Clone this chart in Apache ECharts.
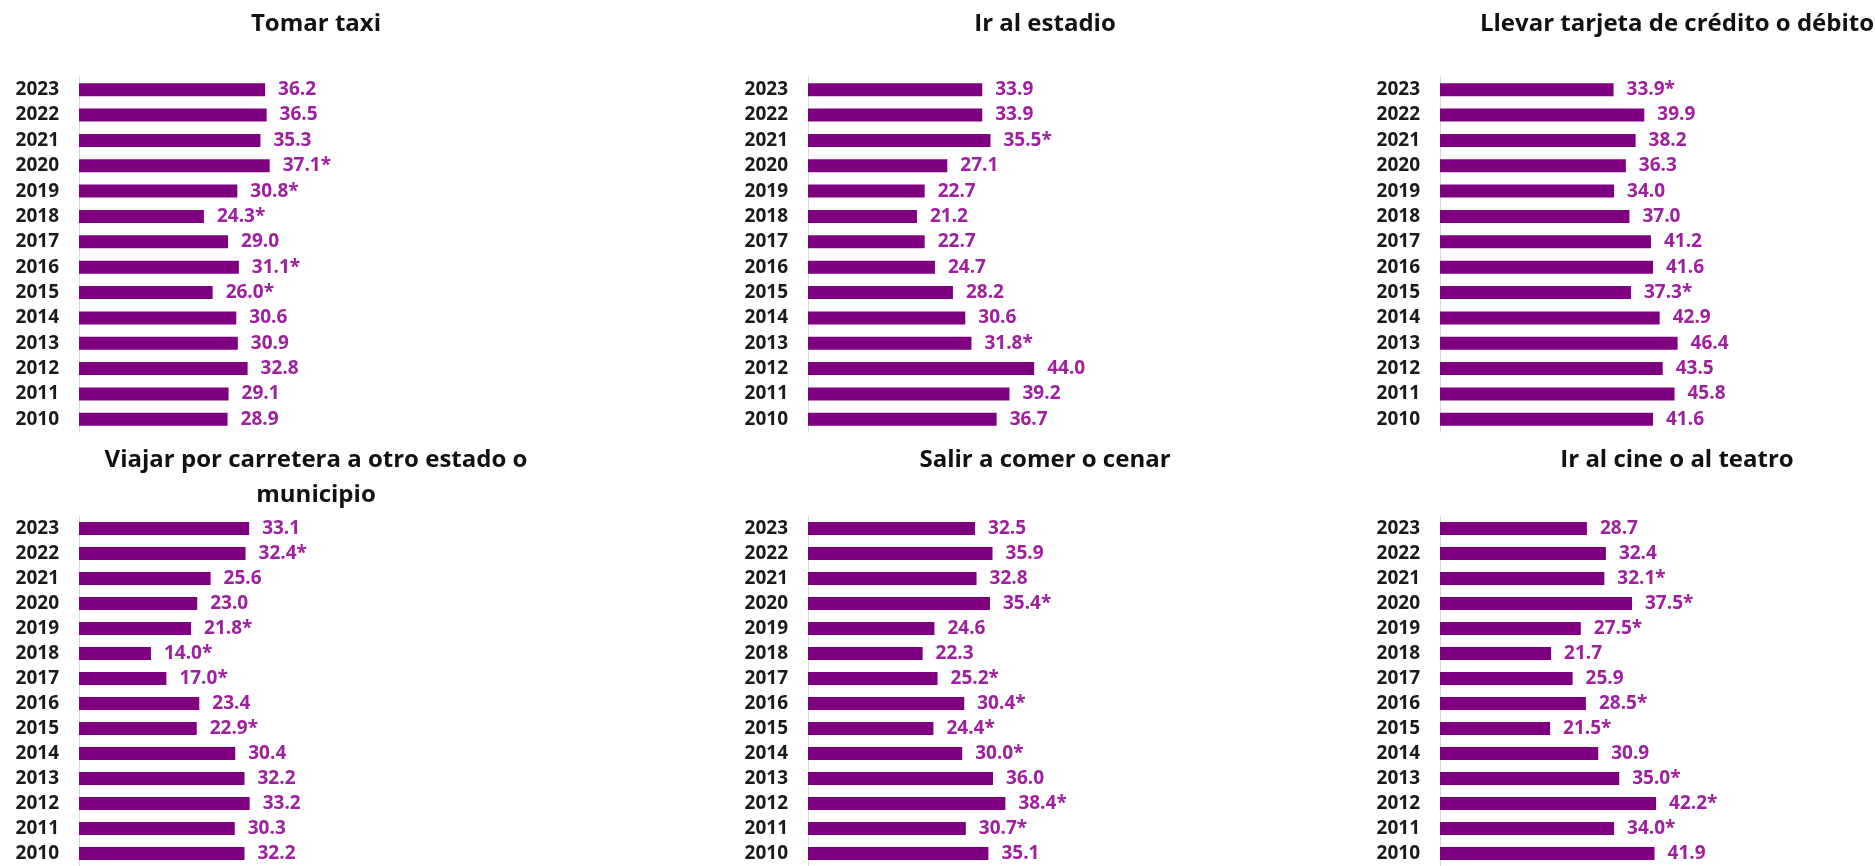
<!DOCTYPE html>
<html>
<head>
<meta charset="utf-8">
<script src="https://cdn.jsdelivr.net/npm/echarts@6/dist/echarts.min.js"></script>
<style>
  html, body { margin: 0; padding: 0; background: #ffffff; }
  #chart { width: 1875px; height: 866px; }
</style>
</head>
<body>
<div id="chart"></div>
<script>
// Years, listed top to bottom
const years = ['2023','2022','2021','2020','2019','2018','2017','2016','2015','2014','2013','2012','2011','2010'];

// Panel titles
const titles = [
  'Tomar taxi',
  'Ir al estadio',
  'Llevar tarjeta de crédito o débito',
  'Viajar por carretera a otro estado o\nmunicipio',
  'Salir a comer o cenar',
  'Ir al cine o al teatro'
];

// Percentages per activity (2023 -> 2010)
const tomarTaxi   = [36.2, 36.5, 35.3, 37.1, 30.8, 24.3, 29.0, 31.1, 26.0, 30.6, 30.9, 32.8, 29.1, 28.9];
const irEstadio   = [33.9, 33.9, 35.5, 27.1, 22.7, 21.2, 22.7, 24.7, 28.2, 30.6, 31.8, 44.0, 39.2, 36.7];
const llevarTarj  = [33.9, 39.9, 38.2, 36.3, 34.0, 37.0, 41.2, 41.6, 37.3, 42.9, 46.4, 43.5, 45.8, 41.6];
const viajarCarr  = [33.1, 32.4, 25.6, 23.0, 21.8, 14.0, 17.0, 23.4, 22.9, 30.4, 32.2, 33.2, 30.3, 32.2];
const salirComer  = [32.5, 35.9, 32.8, 35.4, 24.6, 22.3, 25.2, 30.4, 24.4, 30.0, 36.0, 38.4, 30.7, 35.1];
const irCine      = [28.7, 32.4, 32.1, 37.5, 27.5, 21.7, 25.9, 28.5, 21.5, 30.9, 35.0, 42.2, 34.0, 41.9];

// Statistically significant change marks (1 = asterisk)
const sigTaxi     = [0, 0, 0, 1, 1, 1, 0, 1, 1, 0, 0, 0, 0, 0];
const sigEstadio  = [0, 0, 1, 0, 0, 0, 0, 0, 0, 0, 1, 0, 0, 0];
const sigTarjeta  = [1, 0, 0, 0, 0, 0, 0, 0, 1, 0, 0, 0, 0, 0];
const sigViajar   = [0, 1, 0, 0, 1, 1, 1, 0, 1, 0, 0, 0, 0, 0];
const sigComer    = [0, 0, 0, 1, 0, 0, 1, 1, 1, 1, 0, 1, 1, 0];
const sigCine     = [0, 0, 1, 1, 1, 0, 0, 1, 1, 0, 1, 1, 1, 0];

const seriesValues = [tomarTaxi, irEstadio, llevarTarj, viajarCarr, salirComer, irCine];
const seriesSig    = [sigTaxi, sigEstadio, sigTarjeta, sigViajar, sigComer, sigCine];

const FONT = '"Open Sans", Lato, sans-serif';
const BAR = '#7f007f';
const LABEL = '#9e209e';

const colLeft  = [79, 808, 1440];
const colWidth = [257, 257, 256];
const rowTop   = [77, 516];
const gridH    = 355;
const titleY   = [7, 443];

const grids = [], xAxes = [], yAxes = [], series = [], titleOpts = [];

seriesValues.forEach((vals, i) => {
  const col = i % 3, row = Math.floor(i / 3);
  grids.push({ left: colLeft[col], top: rowTop[row], width: colWidth[col], height: gridH, containLabel: false });
  xAxes.push({
    gridIndex: i, type: 'value', min: 0, max: 50,
    show: false, splitLine: { show: false }
  });
  yAxes.push({
    gridIndex: i, type: 'category', data: years, inverse: true,
    axisLine: { show: true, lineStyle: { color: '#d9d9d9', width: 1 } },
    axisTick: { show: false },
    axisLabel: { margin: 20, color: '#1a1a1a', fontFamily: FONT, fontWeight: 'bold', fontSize: 19 }
  });
  const sig = seriesSig[i];
  series.push({
    type: 'bar', xAxisIndex: i, yAxisIndex: i,
    data: vals, barWidth: 13,
    itemStyle: { color: BAR },
    label: {
      show: true, position: 'right', distance: 13,
      color: LABEL, fontFamily: FONT, fontWeight: 'bold', fontSize: 19,
      formatter: p => p.value.toFixed(1) + (sig[p.dataIndex] ? '*' : '')
    },
    silent: true, animation: false
  });
  titleOpts.push({
    text: titles[i],
    left: colLeft[col] + 237, top: titleY[row], textAlign: 'center',
    padding: 0,
    textStyle: { fontFamily: FONT, fontWeight: 'bold', fontSize: 24, color: '#111111', lineHeight: 35 }
  });
});

const chart = echarts.init(document.getElementById('chart'), null, { renderer: 'canvas' });
chart.setOption({
  animation: false,
  backgroundColor: '#ffffff',
  title: titleOpts,
  grid: grids,
  xAxis: xAxes,
  yAxis: yAxes,
  series: series
});
</script>
</body>
</html>
